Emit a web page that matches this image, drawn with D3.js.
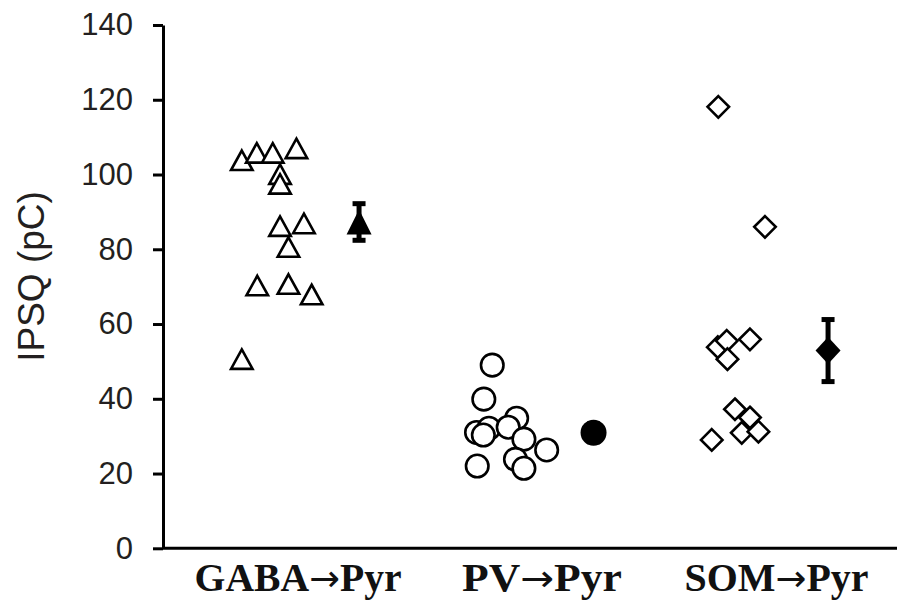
<!DOCTYPE html>
<html>
<head>
<meta charset="utf-8">
<script src="https://cdn.jsdelivr.net/npm/d3@7"></script>
<style>
body { margin: 0; background: #fff; }
.y.axis text { font-family: "Liberation Sans", Arial, sans-serif; font-size: 31px; fill: #231f20; }
.y.axis path, .y.axis line { stroke: #000; stroke-width: 3; }
</style>
</head>
<body>
<div id="chart"></div>
<script>
var groupNames = ["GABA", "PV", "SOM"];
var target = "Pyr";
var labelPos = [0.74, 1.78, 2.78];
var labelWidth = [207, 160, 184];
var yTicks = [0, 20, 40, 60, 80, 100, 120, 140];

// individual cells, x in category units (mean of group k sits at k)
var gabaX = [0.500, 0.564, 0.632, 0.733, 0.663, 0.663, 0.663, 0.765, 0.699, 0.566, 0.699, 0.798, 0.500];
var gabaY = [103.8, 105.8, 105.8, 107.0, 100.1, 97.5, 86.2, 86.9, 80.6, 70.3, 70.7, 67.9, 50.6];

var pvX = [1.568, 1.532, 1.501, 1.554, 1.530, 1.672, 1.636, 1.703, 1.800, 1.667, 1.703, 1.504];
var pvY = [49.0, 39.9, 31.0, 32.1, 30.3, 34.8, 32.4, 29.2, 26.3, 23.8, 21.4, 22.0];

var somX = [2.532, 2.731, 2.667, 2.530, 2.568, 2.571, 2.603, 2.667, 2.632, 2.703, 2.504];
var somY = [118.1, 86.0, 55.9, 53.8, 55.5, 50.6, 37.2, 35.0, 30.9, 31.2, 29.0];

// mean +/- SEM
var meanX = [1, 2, 3];
var means = [87.3, 30.9, 52.9];
var sems = [4.9, 2.4, 8.3];

var W = 897, H = 603;
var margin = {top: 25, right: 0, bottom: 54.7, left: 163};
var height = H - margin.top - margin.bottom;

var x = d3.scaleLinear().domain([0.164, 3.294]).range([margin.left, W]);
var y = d3.scaleLinear().domain([0, 140]).range([margin.top + height, margin.top]);

var svg = d3.select("#chart").append("svg")
    .attr("width", W)
    .attr("height", H)
    .style("background", "#fff");

function triangle(w, h) {
    return { draw: function(ctx) {
        ctx.moveTo(0, -h / 2);
        ctx.lineTo(w / 2, h / 2);
        ctx.lineTo(-w / 2, h / 2);
        ctx.closePath();
    }};
}
function diamond(w, h) {
    return { draw: function(ctx) {
        ctx.moveTo(0, -h / 2);
        ctx.lineTo(w / 2, 0);
        ctx.lineTo(0, h / 2);
        ctx.lineTo(-w / 2, 0);
        ctx.closePath();
    }};
}
function disc(r) {
    return { draw: function(ctx) {
        ctx.moveTo(r, 0);
        ctx.arc(0, 0, r, 0, 2 * Math.PI);
    }};
}

var openShapes = [triangle(21.5, 19.5), disc(11.25), diamond(21.5, 21.5)];
var filledShapes = [triangle(25, 25), disc(13), diamond(25, 27)];
var sets = [[gabaX, gabaY], [pvX, pvY], [somX, somY]];

// axes
svg.append("g")
    .attr("class", "y axis")
    .attr("transform", "translate(" + margin.left + ",0)")
    .call(d3.axisLeft(y).tickValues(yTicks).tickSize(10).tickSizeOuter(0).tickPadding(20));

svg.append("line")
    .attr("x1", margin.left)
    .attr("x2", W)
    .attr("y1", y(0))
    .attr("y2", y(0))
    .attr("stroke", "#000")
    .attr("stroke-width", 3);

svg.append("text")
    .attr("transform", "translate(44," + 276.5 + ") rotate(-90)")
    .attr("text-anchor", "middle")
    .style("font-family", "'Liberation Sans', Arial, sans-serif")
    .style("font-size", "37px")
    .style("fill", "#231f20")
    .text("IPSQ (pC)");

var xlab = svg.selectAll(".xlab")
    .data(groupNames)
    .enter().append("text")
    .attr("class", "xlab")
    .attr("x", function(d, i) { return x(labelPos[i]); })
    .attr("y", 591)
    .attr("text-anchor", "middle")
    .attr("textLength", function(d, i) { return labelWidth[i]; })
    .attr("lengthAdjust", "spacingAndGlyphs")
    .style("font-family", "'Liberation Serif', 'Times New Roman', serif")
    .style("font-weight", "bold")
    .style("font-size", "40px")
    .style("fill", "#111");

xlab.append("tspan").text(function(d) { return d; });
xlab.append("tspan")
    .style("font-family", "'DejaVu Sans', sans-serif")
    .style("font-weight", "normal")
    .style("font-size", "37px")
    .text("\u2192");
xlab.append("tspan").text(target);

// individual points
sets.forEach(function(s, k) {
    var pts = s[0].map(function(v, i) { return {x: v, y: s[1][i]}; });
    svg.append("g").selectAll("path")
        .data(pts)
        .enter().append("path")
        .attr("d", d3.symbol().type(openShapes[k]))
        .attr("transform", function(d) { return "translate(" + x(d.x) + "," + y(d.y) + ")"; })
        .attr("fill", "#fff")
        .attr("stroke", "#000")
        .attr("stroke-width", 2.6)
        .attr("stroke-linejoin", "miter");
});

// error bars
var eb = svg.append("g").selectAll("g")
    .data(means)
    .enter().append("g")
    .attr("stroke", "#000")
    .attr("stroke-width", 5);

eb.append("line")
    .attr("x1", function(d, i) { return x(meanX[i]); })
    .attr("x2", function(d, i) { return x(meanX[i]); })
    .attr("y1", function(d, i) { return y(d + sems[i]); })
    .attr("y2", function(d, i) { return y(d - sems[i]); });

[1, -1].forEach(function(sign) {
    eb.append("line")
        .attr("x1", function(d, i) { return x(meanX[i]) - 6.5; })
        .attr("x2", function(d, i) { return x(meanX[i]) + 6.5; })
        .attr("y1", function(d, i) { return y(d + sign * sems[i]); })
        .attr("y2", function(d, i) { return y(d + sign * sems[i]); });
});

svg.append("g").selectAll("path")
    .data(means)
    .enter().append("path")
    .attr("d", function(d, i) { return d3.symbol().type(filledShapes[i])(); })
    .attr("transform", function(d, i) { return "translate(" + x(meanX[i]) + "," + y(d) + ")"; })
    .attr("fill", "#000");
</script>
</body>
</html>
